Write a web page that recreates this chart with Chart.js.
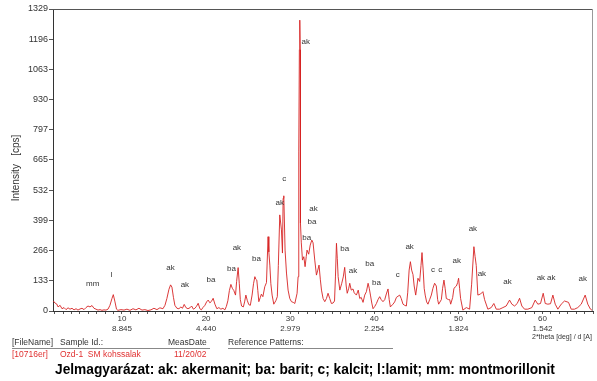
<!DOCTYPE html>
<html>
<head>
<meta charset="utf-8">
<script src="https://cdn.jsdelivr.net/npm/chart.js@4.4.1/dist/chart.umd.min.js"></script>
<style>
html,body{margin:0;padding:0;background:#fff;}
#wrap{width:597px;height:381px;position:relative;}
</style>
</head>
<body>
<div id="wrap"><canvas id="c" width="597" height="381"></canvas></div>
<script>
// ---- data ----
const twoTheta = [1.84,2.04,2.24,2.4,2.64,2.87,3.11,3.35,3.59,3.82,4.06,4.3,4.54,4.77,5.01,5.25,5.49,5.72,5.96,6.2,6.44,6.67,6.91,7.15,7.39,7.62,7.86,8.1,8.34,8.57,8.81,8.97,9.17,9.35,9.52,9.88,10.24,10.59,10.95,11.31,11.66,12.02,12.38,12.73,13.09,13.44,13.8,14.16,14.51,14.87,15.11,15.34,15.58,15.78,15.94,16.12,16.29,16.53,16.77,17.01,17.19,17.4,17.6,17.84,18.08,18.28,18.49,18.67,18.85,19.06,19.26,19.44,19.62,19.86,20.06,20.25,20.45,20.63,20.84,21.05,21.28,21.52,21.76,22.0,22.23,22.41,22.59,22.77,22.95,23.12,23.3,23.5,23.63,23.81,23.95,24.07,24.22,24.43,24.58,24.73,24.91,25.08,25.26,25.47,25.64,25.8,25.91,26.03,26.15,26.27,26.45,26.57,26.75,26.98,27.18,27.37,27.46,27.58,27.7,27.85,28.05,28.29,28.47,28.59,28.76,28.96,29.08,29.16,29.24,29.39,29.56,29.75,29.95,30.15,30.36,30.55,30.82,30.94,31.02,31.09,31.14,31.19,31.22,31.32,31.46,31.62,31.77,31.91,32.0,32.2,32.38,32.57,32.72,32.92,33.12,33.28,33.43,33.58,33.72,33.91,34.11,34.31,34.5,34.7,34.9,35.1,35.27,35.38,35.5,35.6,35.7,35.9,36.13,36.31,36.48,36.66,36.78,36.96,37.08,37.26,37.47,37.61,37.87,38.09,38.27,38.44,38.66,38.86,39.06,39.26,39.4,39.54,39.7,39.85,40.05,40.25,40.44,40.64,40.82,41.03,41.24,41.43,41.63,41.77,41.91,42.22,42.42,42.63,42.82,43.02,43.2,43.41,43.61,43.81,43.97,44.14,44.29,44.44,44.6,44.74,44.92,45.07,45.19,45.39,45.55,45.67,45.81,45.93,46.05,46.22,46.38,46.58,46.78,46.97,47.17,47.37,47.53,47.65,47.97,48.12,48.28,48.42,48.56,48.84,48.96,49.08,49.32,49.47,49.76,49.91,50.02,50.14,50.26,50.53,50.94,51.33,51.57,51.84,51.98,52.12,52.31,52.64,52.91,53.11,53.5,53.9,54.21,54.5,54.89,55.29,55.68,56.08,56.35,56.68,56.99,57.27,57.54,57.86,58.25,58.73,59.13,59.44,59.76,60.08,60.32,60.63,60.95,61.23,61.51,61.82,62.22,62.61,63.09,63.41,63.8,64.19,64.6,65.07,65.38,65.7,65.94];
const intensity = [44,35,31,18,25,10,15,6,14,8,12,5,10,4,9,12,6,15,22,18,24,12,8,4,6,3,5,4,8,25,55,72,40,8,3,6,4,8,3,10,5,12,4,6,2,5,12,6,14,10,25,55,95,115,105,60,25,12,10,18,12,29,15,10,14,22,8,12,20,34,10,5,15,25,40,48,36,42,56,30,10,15,8,12,5,20,45,90,117,100,90,70,130,191,120,50,22,18,40,70,45,28,25,70,120,151,140,136,90,41,60,74,63,107,125,327,260,202,120,70,30,45,63,200,423,357,255,496,507,268,167,92,55,41,38,33,78,151,700,1150,1280,1150,387,300,224,239,195,240,268,250,290,312,300,224,158,180,202,140,92,55,41,55,78,55,33,35,44,150,298,230,151,92,122,150,192,110,78,100,122,92,97,80,70,92,55,60,38,70,85,122,100,70,35,10,20,33,50,63,50,41,50,75,97,50,18,30,40,60,65,70,55,30,25,22,80,180,217,180,160,110,70,110,144,130,200,257,180,100,70,40,30,50,70,100,122,110,50,30,50,100,136,100,55,50,50,30,60,100,110,125,144,100,55,4,15,8,118,283,240,200,70,75,85,50,8,15,33,8,8,15,22,48,30,22,33,56,22,8,8,15,48,30,33,78,33,30,32,70,30,8,30,44,38,8,8,15,30,70,30,8,2];

const yTickValues = [0,133,266,399,532,665,797,930,1063,1196,1329];
const xTickValues = [2,3,4,5,6,7,8,9,10,11,12,13,14,15,16,17,18,19,20,21,22,23,24,25,26,27,28,29,30,31,32,33,34,35,36,37,38,39,40,41,42,43,44,45,46,47,48,49,50,51,52,53,54,55,56,57,58,59,60,61,62,63,64,65,66];
const xMajorTicks = [10,20,30,40,50,60];
const dSpacingLabels = ['8.845','4.440','2.979','2.254','1.824','1.542'];

const peakLabelText = ['mm','l','ak','ak','ba','ba','ak','ba','ak','c','ak','ak','ba','ba','ba','ak','ba','ba','c','ak','c','c','ak','ak','ak','ak','ak','ak','ak'];
const peakLabelX = [6.52,8.73,15.78,17.48,20.57,23.03,23.66,26.0,28.76,29.28,31.85,32.77,32.6,31.97,36.48,37.47,39.45,40.25,42.78,44.2,46.97,47.85,49.79,51.72,52.79,55.84,59.8,61.03,64.79];
const peakLabelY = [119,158,192,114,136,185,276,229,474,580,1185,449,392,323,272,176,206,123,158,283,180,180,220,361,162,128,147,147,141];

const yAxisTitle = 'Intensity   [cps]';
const xAxisTitle = '2*theta [deg] / d [A]';
const headerTexts = ['[FileName]','Sample Id.:','MeasDate','Reference Patterns:'];
const rowTexts = ['[10716er]','Ozd-1  SM kohssalak','11/20/02'];
const legendText = 'Jelmagyarázat: ak: akermanit; ba: barit; c; kalcit; l:lamit; mm: montmorillonit';

// ---- chart ----
const FONT = '"Liberation Sans", Arial, sans-serif';
const points = twoTheta.map((x, i) => ({x: x, y: intensity[i]}));

const decor = {
  id: 'decor',
  afterDatasetsDraw(chart) {
    const ctx = chart.ctx, a = chart.chartArea;
    const xs = chart.scales.x, ys = chart.scales.y;
    ctx.save();
    // frame top and right
    ctx.lineWidth = 1;
    ctx.strokeStyle = '#555';
    ctx.beginPath(); ctx.moveTo(a.left, a.top + 0.5); ctx.lineTo(a.right, a.top + 0.5); ctx.stroke();
    ctx.strokeStyle = '#999';
    ctx.beginPath(); ctx.moveTo(a.right - 0.5, a.top); ctx.lineTo(a.right - 0.5, a.bottom); ctx.stroke();
    // peak labels
    ctx.fillStyle = '#333';
    ctx.font = '8px ' + FONT;
    ctx.textAlign = 'center';
    ctx.textBaseline = 'middle';
    peakLabelText.forEach((t, i) => {
      ctx.fillText(t, xs.getPixelForValue(peakLabelX[i]), ys.getPixelForValue(peakLabelY[i]));
    });
    ctx.restore();
  },
  afterDraw(chart) {
    const ctx = chart.ctx;
    ctx.save();
    // y title
    ctx.fillStyle = '#333';
    ctx.font = '10px ' + FONT;
    ctx.translate(16, 168);
    ctx.rotate(-Math.PI / 2);
    ctx.textAlign = 'center';
    ctx.textBaseline = 'middle';
    ctx.fillText(yAxisTitle, 0, 0);
    ctx.restore();

    ctx.save();
    ctx.fillStyle = '#333';
    ctx.font = '7px ' + FONT;
    ctx.textAlign = 'left';
    ctx.textBaseline = 'middle';
    ctx.fillText(xAxisTitle, 532, 337);

    // table
    ctx.font = '8.5px ' + FONT;
    ctx.fillStyle = '#333';
    const hx = [12, 60, 168, 228];
    headerTexts.forEach((t, i) => ctx.fillText(t, hx[i], 342.5));
    ctx.strokeStyle = '#888';
    ctx.lineWidth = 1;
    ctx.beginPath(); ctx.moveTo(12, 348.5); ctx.lineTo(210, 348.5); ctx.stroke();
    ctx.beginPath(); ctx.moveTo(228, 348.5); ctx.lineTo(393, 348.5); ctx.stroke();
    ctx.fillStyle = '#e03030';
    const rx = [12, 60, 174];
    rowTexts.forEach((t, i) => ctx.fillText(t, rx[i], 354.5));

    // legend line
    ctx.fillStyle = '#000';
    ctx.font = 'bold 14px ' + FONT;
    const w = ctx.measureText(legendText).width;
    const size = 14 * 500 / w;
    ctx.font = 'bold ' + size.toFixed(2) + 'px ' + FONT;
    ctx.textBaseline = 'alphabetic';
    ctx.fillText(legendText, 55, 373.5);
    ctx.restore();
  }
};

new Chart(document.getElementById('c'), {
  type: 'line',
  data: {
    datasets: [{
      data: points,
      borderColor: 'rgba(215,35,35,0.9)',
      borderWidth: 1,
      pointRadius: 0,
      tension: 0,
      fill: false
    }]
  },
  options: {
    responsive: false,
    animation: false,
    devicePixelRatio: 1,
    layout: {padding: {top: 9, right: 4, left: 0, bottom: 0}},
    plugins: {legend: {display: false}, tooltip: {enabled: false}},
    scales: {
      x: {
        type: 'linear',
        min: 1.8,
        max: 66,
        afterBuildTicks(scale) { scale.ticks = xTickValues.map(v => ({value: v})); },
        afterFit(scale) { scale.height = 70; },
        border: {display: true, color: '#333', width: 1},
        grid: {display: true, drawOnChartArea: false, drawTicks: true, tickLength: 3, color: '#555'},
        ticks: {
          autoSkip: false,
          maxRotation: 0,
          padding: 0,
          color: '#333',
          font: {family: FONT, size: 8, lineHeight: 1.25},
          callback(value) {
            const k = xMajorTicks.indexOf(value);
            return k >= 0 ? [String(value), dSpacingLabels[k]] : '';
          }
        }
      },
      y: {
        type: 'linear',
        min: 0,
        max: 1329,
        afterBuildTicks(scale) { scale.ticks = yTickValues.map(v => ({value: v})); },
        afterFit(scale) { scale.width = 53; },
        border: {display: true, color: '#333', width: 1},
        grid: {display: true, drawOnChartArea: false, drawTicks: true, tickLength: 4, color: '#555'},
        ticks: {
          autoSkip: false,
          padding: 1,
          color: '#333',
          font: {family: FONT, size: 9},
          callback(value) { return String(value); }
        }
      }
    }
  },
  plugins: [decor]
});
</script>
</body>
</html>
